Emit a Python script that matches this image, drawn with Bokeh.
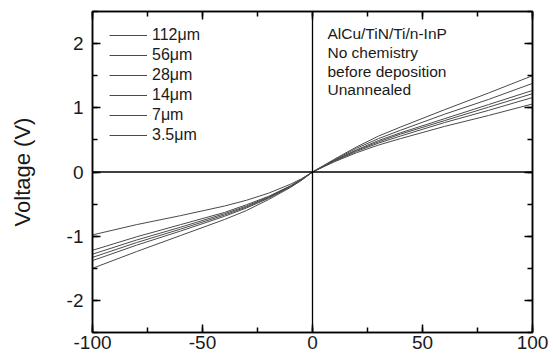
from bokeh.plotting import figure
from bokeh.models import (Range1d, LinearAxis, SingleIntervalTicker, Legend, LegendItem,
                          Span, Label, CustomJSTickFormatter)
from bokeh.embed import file_html
from bokeh.resources import INLINE

# ---- data ----
current = [-100, -80, -60, -40, -30, -20, -10, -5, 0, 5, 10, 20, 30, 40, 60, 80, 100]
labels = ["112μm", "56μm", "28μm", "14μm", "7μm", "3.5μm"]
v_112 = [-0.98, -0.82, -0.68, -0.53, -0.44, -0.33, -0.19, -0.105, 0, 0.08, 0.16, 0.30, 0.42, 0.52, 0.71, 0.88, 1.06]
v_56 = [-1.22, -1.01, -0.82, -0.63, -0.51, -0.38, -0.215, -0.115, 0, 0.085, 0.17, 0.32, 0.45, 0.56, 0.77, 0.96, 1.16]
v_28 = [-1.28, -1.06, -0.86, -0.65, -0.53, -0.39, -0.22, -0.12, 0, 0.09, 0.18, 0.335, 0.47, 0.59, 0.80, 1.01, 1.22]
v_14 = [-1.33, -1.10, -0.89, -0.67, -0.545, -0.40, -0.225, -0.12, 0, 0.09, 0.18, 0.345, 0.49, 0.61, 0.83, 1.05, 1.27]
v_7 = [-1.38, -1.14, -0.92, -0.69, -0.56, -0.41, -0.23, -0.125, 0, 0.095, 0.19, 0.37, 0.52, 0.65, 0.90, 1.13, 1.38]
v_3p5 = [-1.50, -1.24, -0.99, -0.74, -0.60, -0.43, -0.24, -0.13, 0, 0.10, 0.20, 0.39, 0.56, 0.70, 0.97, 1.23, 1.50]
series = [v_112, v_56, v_28, v_14, v_7, v_3p5]
notes = ["AlCu/TiN/Ti/n-InP", "No chemistry", "before deposition", "Unannealed"]

FONT = "Liberation Sans"
INK = "#1a1a1a"

p = figure(width=553, height=357, x_range=Range1d(-100, 100), y_range=Range1d(-2.5, 2.5),
           output_backend="svg", toolbar_location=None,
           min_border_left=92, min_border_right=21, min_border_top=11, min_border_bottom=25)
p.xgrid.visible = False
p.ygrid.visible = False
p.outline_line_color = "black"
p.outline_line_width = 1.5
p.background_fill_color = "white"
p.border_fill_color = "white"

plain = CustomJSTickFormatter(code="return tick.toString()")
blank = CustomJSTickFormatter(code="return ''")


def style_axis(ax):
    ax.axis_line_color = "black"
    ax.axis_line_width = 1.5
    ax.major_tick_in = 8
    ax.major_tick_out = 0
    ax.minor_tick_in = 5
    ax.minor_tick_out = 0
    ax.major_tick_line_color = "black"
    ax.minor_tick_line_color = "black"
    ax.major_tick_line_width = 1.5
    ax.minor_tick_line_width = 1.5
    ax.major_label_text_font = FONT
    ax.major_label_text_font_size = "19px"
    ax.major_label_text_color = INK


p.xaxis.ticker = SingleIntervalTicker(interval=50, num_minor_ticks=2)
p.yaxis.ticker = SingleIntervalTicker(interval=1, num_minor_ticks=2)
p.xaxis.formatter = plain
p.yaxis.formatter = plain
style_axis(p.xaxis[0])
style_axis(p.yaxis[0])
p.xaxis.major_label_standoff = 3
p.yaxis.major_label_standoff = 9
p.yaxis.axis_label = "Voltage (V)"
p.yaxis.axis_label_text_font = FONT
p.yaxis.axis_label_text_font_size = "22px"
p.yaxis.axis_label_text_font_style = "normal"
p.yaxis.axis_label_text_color = INK
p.yaxis.axis_label_standoff = 29

top = LinearAxis(ticker=SingleIntervalTicker(interval=50, num_minor_ticks=2), formatter=blank)
right = LinearAxis(ticker=SingleIntervalTicker(interval=1, num_minor_ticks=2), formatter=blank)
for ax in (top, right):
    style_axis(ax)
    ax.major_label_standoff = 0
    ax.major_label_text_font_size = "1px"
p.add_layout(top, "above")
p.add_layout(right, "right")

# zero lines
p.add_layout(Span(location=0, dimension="width", line_color="black", line_width=1.3))
p.add_layout(Span(location=0, dimension="height", line_color="black", line_width=1.3))

# curves
renderers = []
for v in series:
    renderers.append(p.line(current, v, line_color="#4a4a4a", line_width=1))

legend = Legend(items=[LegendItem(label=lab, renderers=[r]) for lab, r in zip(labels, renderers)],
                location=(17, 187), border_line_color=None,
                background_fill_alpha=0, padding=0, spacing=0, margin=0,
                label_height=20, glyph_height=20, glyph_width=38, label_standoff=5,
                label_text_font=FONT, label_text_font_size="16px", label_text_color=INK)
p.add_layout(legend)

# annotation text
note_y = [2.157, 1.861, 1.565, 1.285]
for t, yy in zip(notes, note_y):
    p.add_layout(Label(x=6.8, y=yy, text=t, text_font=FONT, text_font_size="15.5px",
                       text_color=INK, text_baseline="middle"))

open("out.html", "w").write(file_html(p, INLINE))
